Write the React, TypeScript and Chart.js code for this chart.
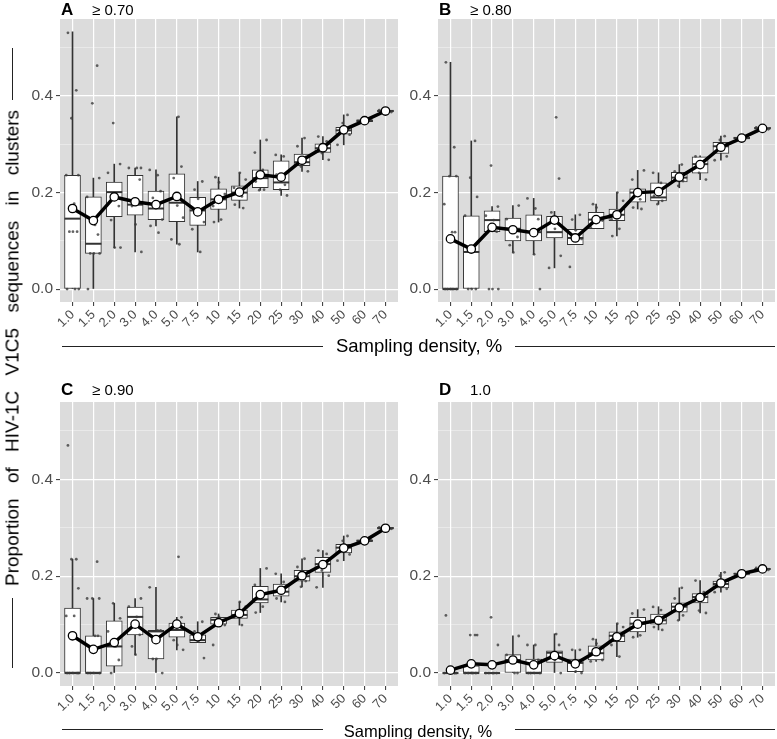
import React, { useEffect, useRef } from 'react';
import { Chart, registerables } from 'chart.js';

Chart.register(...registerables);

const FONT = "'Liberation Sans', Arial, Helvetica, sans-serif";
Chart.defaults.font.family = FONT;

// ---------- data ----------
const CATEGORIES = ['1.0', '1.5', '2.0', '3.0', '4.0', '5.0', '7.5', '10', '15', '20', '25', '30', '40', '50', '60', '70'];
const Y_GRID = [0, 0.1, 0.2, 0.3, 0.4, 0.5];
const Y_LABELED = [0, 0.2, 0.4];
const Y_MIN = -0.0267;
const Y_MAX = 0.5597;
const PANEL_LETTERS = ['A', 'B', 'C', 'D'];
const THRESHOLDS = ['\u2265 0.70', '\u2265 0.80', '\u2265 0.90', '1.0'];
const X_TITLE = 'Sampling density, %';
const Y_TITLE = 'Proportion of HIV-1C V1C5 sequences in clusters';

// Panel A (>= 0.70)
const A_LOW = [0, 0, 0.086, 0.077, 0.131, 0.093, 0.077, 0.139, 0.168, 0.205, 0.194, 0.244, 0.268, 0.299, 0.345, 0.365];
const A_Q1 = [0, 0.074, 0.150, 0.153, 0.144, 0.140, 0.132, 0.165, 0.184, 0.210, 0.206, 0.256, 0.283, 0.321, 0.347, 0.367];
const A_MEDIAN = [0.146, 0.094, 0.201, 0.175, 0.167, 0.179, 0.163, 0.186, 0.200, 0.230, 0.221, 0.263, 0.292, 0.329, 0.349, 0.369];
const A_Q3 = [0.236, 0.191, 0.222, 0.236, 0.203, 0.239, 0.190, 0.208, 0.214, 0.247, 0.266, 0.280, 0.301, 0.335, 0.351, 0.371];
const A_HIGH = [0.533, 0.230, 0.259, 0.251, 0.247, 0.357, 0.223, 0.232, 0.241, 0.309, 0.278, 0.313, 0.316, 0.361, 0.353, 0.373];
const A_MEAN = [0.167, 0.142, 0.191, 0.181, 0.175, 0.192, 0.160, 0.186, 0.201, 0.237, 0.232, 0.267, 0.293, 0.330, 0.349, 0.369];
const A_POINTS = [
  [0.531, 0.412, 0.354, 0.236, 0.236, 0.177, 0.119, 0.119, 0.119, 0, 0, 0],
  [0.463, 0.385, 0.230, 0.191, 0.133, 0.113, 0.074, 0.074, 0.074, 0],
  [0.344, 0.259, 0.241, 0.197, 0.172, 0.143, 0.086, 0.086],
  [0.251, 0.251, 0.251, 0.227, 0.172, 0.134, 0.077],
  [0.247, 0.236, 0.203, 0.189, 0.174, 0.144, 0.131, 0.117],
  [0.357, 0.254, 0.230, 0.173, 0.148, 0.103, 0.093],
  [0.223, 0.206, 0.187, 0.139, 0.124, 0.077],
  [0.232, 0.221, 0.197, 0.172, 0.144, 0.139],
  [0.241, 0.227, 0.210, 0.192, 0.175, 0.168],
  [0.309, 0.283, 0.247, 0.223, 0.206, 0.205],
  [0.278, 0.275, 0.237, 0.216, 0.206, 0.194],
  [0.313, 0.296, 0.274, 0.254, 0.244],
  [0.316, 0.306, 0.282, 0.268],
  [0.361, 0.344, 0.320, 0.299],
  [0.347, 0.351],
  [0.367, 0.371],
];

// Panel B (>= 0.80)
const B_LOW = [0, 0, 0.119, 0.076, 0.072, 0.044, 0.092, 0.125, 0.110, 0.166, 0.176, 0.210, 0.227, 0.267, 0.309, 0.330];
const B_Q1 = [0, 0, 0.119, 0.100, 0.100, 0.106, 0.092, 0.125, 0.142, 0.180, 0.183, 0.222, 0.240, 0.281, 0.311, 0.332];
const B_MEDIAN = [0, 0.077, 0.143, 0.125, 0.118, 0.118, 0.106, 0.144, 0.154, 0.200, 0.190, 0.231, 0.259, 0.296, 0.313, 0.333];
const B_Q3 = [0.234, 0.152, 0.162, 0.147, 0.154, 0.151, 0.124, 0.159, 0.166, 0.208, 0.220, 0.242, 0.274, 0.304, 0.315, 0.335];
const B_HIGH = [0.470, 0.307, 0.171, 0.173, 0.188, 0.161, 0.154, 0.176, 0.200, 0.246, 0.241, 0.258, 0.276, 0.317, 0.317, 0.337];
const B_MEAN = [0.104, 0.083, 0.128, 0.123, 0.117, 0.143, 0.106, 0.144, 0.154, 0.200, 0.202, 0.232, 0.258, 0.294, 0.313, 0.333];
const B_POINTS = [
  [0.470, 0.294, 0.234, 0.234, 0.176, 0.118, 0.118, 0, 0, 0, 0, 0],
  [0.307, 0.231, 0.191, 0.152, 0.077, 0, 0, 0],
  [0.256, 0.171, 0.152, 0.143, 0.119, 0, 0, 0],
  [0.173, 0.145, 0.125, 0.108, 0.091, 0.076],
  [0.188, 0.167, 0.145, 0.118, 0.072, 0],
  [0.356, 0.229, 0.159, 0.125, 0.069, 0.044],
  [0.154, 0.144, 0.122, 0.104, 0.046],
  [0.176, 0.169, 0.142, 0.128],
  [0.200, 0.183, 0.145, 0.125, 0.110],
  [0.246, 0.227, 0.186, 0.169, 0.166],
  [0.241, 0.220, 0.193, 0.183, 0.176],
  [0.258, 0.244, 0.224, 0.214],
  [0.275, 0.265, 0.241, 0.227],
  [0.317, 0.309, 0.275, 0.267],
  [0.311, 0.315],
  [0.331, 0.335],
];

// Panel C (>= 0.90)
const C_LOW = [0, 0, 0, 0.038, 0, 0.048, 0.063, 0.096, 0.099, 0.125, 0.147, 0.178, 0.177, 0.232, 0.270, 0.297];
const C_Q1 = [0, 0, 0.014, 0.079, 0.029, 0.074, 0.063, 0.101, 0.113, 0.145, 0.159, 0.190, 0.208, 0.248, 0.272, 0.298];
const C_MEDIAN = [0, 0, 0.055, 0.116, 0.086, 0.089, 0.068, 0.110, 0.120, 0.152, 0.168, 0.200, 0.225, 0.259, 0.273, 0.299];
const C_Q3 = [0.134, 0.077, 0.108, 0.136, 0.088, 0.103, 0.079, 0.115, 0.130, 0.179, 0.184, 0.212, 0.239, 0.266, 0.275, 0.301];
const C_HIGH = [0.235, 0.154, 0.144, 0.154, 0.177, 0.115, 0.106, 0.122, 0.147, 0.216, 0.205, 0.236, 0.253, 0.283, 0.277, 0.303];
const C_MEAN = [0.077, 0.049, 0.063, 0.101, 0.069, 0.101, 0.075, 0.104, 0.123, 0.162, 0.171, 0.201, 0.224, 0.258, 0.273, 0.299];
const C_POINTS = [
  [0.470, 0.235, 0.235, 0.175, 0.118, 0.118, 0, 0, 0, 0, 0],
  [0.230, 0.154, 0.154, 0.154, 0.077, 0.077, 0, 0, 0, 0],
  [0.144, 0.113, 0.086, 0.055, 0.027, 0],
  [0.154, 0.137, 0.116, 0.079, 0.055, 0.038],
  [0.177, 0.088, 0.088, 0.029, 0.029, 0],
  [0.240, 0.115, 0.068, 0.058, 0.048],
  [0.106, 0.086, 0.065, 0.031],
  [0.122, 0.116, 0.099, 0.058],
  [0.147, 0.137, 0.115, 0.099],
  [0.216, 0.182, 0.137, 0.125],
  [0.205, 0.188, 0.154, 0.147],
  [0.236, 0.219, 0.190, 0.178],
  [0.253, 0.246, 0.212, 0.201, 0.177],
  [0.283, 0.273, 0.245, 0.232],
  [0.271, 0.275],
  [0.298, 0.301],
];

// Panel D (1.0)
const D_LOW = [0, 0, 0, 0, 0, 0, 0, 0.024, 0.034, 0.074, 0.089, 0.109, 0.124, 0.167, 0.202, 0.212];
const D_Q1 = [0, 0, 0, 0, 0, 0.022, 0.003, 0.027, 0.065, 0.085, 0.101, 0.126, 0.145, 0.176, 0.204, 0.214];
const D_MEDIAN = [0, 0, 0, 0.027, 0, 0.042, 0.021, 0.041, 0.077, 0.102, 0.109, 0.137, 0.157, 0.184, 0.205, 0.215];
const D_Q3 = [0, 0.015, 0, 0.038, 0.029, 0.046, 0.029, 0.056, 0.085, 0.115, 0.122, 0.145, 0.164, 0.190, 0.206, 0.216];
const D_HIGH = [0, 0.015, 0, 0.077, 0.058, 0.081, 0.048, 0.070, 0.102, 0.131, 0.137, 0.176, 0.191, 0.208, 0.208, 0.218];
const D_MEAN = [0.006, 0.019, 0.017, 0.027, 0.017, 0.036, 0.019, 0.044, 0.075, 0.101, 0.109, 0.135, 0.156, 0.186, 0.205, 0.215];
const D_POINTS = [
  [0.119, 0, 0, 0, 0, 0, 0],
  [0.0785, 0.0785, 0.0785, 0, 0, 0, 0, 0],
  [0.115, 0.058, 0, 0, 0, 0, 0],
  [0.0765, 0.0375, 0, 0],
  [0.058, 0.058, 0.027, 0, 0, 0, 0],
  [0.0805, 0.058, 0.041, 0.027, 0],
  [0.048, 0.048, 0.0034, 0],
  [0.070, 0.061, 0.027, 0.024],
  [0.102, 0.095, 0.058, 0.034],
  [0.131, 0.123, 0.078, 0.074],
  [0.1365, 0.130, 0.095, 0.089],
  [0.176, 0.154, 0.119, 0.109],
  [0.191, 0.167, 0.129, 0.124],
  [0.208, 0.201, 0.174, 0.167],
  [0.203, 0.207],
  [0.213, 0.217],
];

const PANELS = [
  { low: A_LOW, q1: A_Q1, median: A_MEDIAN, q3: A_Q3, high: A_HIGH, mean: A_MEAN, points: A_POINTS },
  { low: B_LOW, q1: B_Q1, median: B_MEDIAN, q3: B_Q3, high: B_HIGH, mean: B_MEAN, points: B_POINTS },
  { low: C_LOW, q1: C_Q1, median: C_MEDIAN, q3: C_Q3, high: C_HIGH, mean: C_MEAN, points: C_POINTS },
  { low: D_LOW, q1: D_Q1, median: D_MEDIAN, q3: D_Q3, high: D_HIGH, mean: D_MEAN, points: D_POINTS },
];

// ---------- layout / style ----------
// jitter offsets (in category units) used for the scattered replicate dots
const JITTER = [-0.22, 0.18, -0.05, 0.28, -0.3, 0.08, 0.22, -0.15, 0.02, 0.3, -0.26, 0.12];
// plot-area rectangles of the four panels (page pixels)
const PANEL_POS = [
  { L: 60, T: 19, R: 398, B: 302 },
  { L: 438, T: 19, R: 775, B: 302 },
  { L: 60, T: 402, R: 398, B: 686 },
  { L: 438, T: 402, R: 775, B: 686 },
];
const Y_AXIS_W = 45;
const X_AXIS_H = 40;
const PAD_TOP = 10;
const PAD_RIGHT = 2;
const PANEL_BG = '#DCDCDC';
const INK = '#333333';
const TICK_TEXT = '#4D4D4D';

const panelBackground = {
  id: 'panelBackground',
  beforeDraw(chart: any) {
    const { ctx, chartArea: a } = chart;
    ctx.save();
    ctx.fillStyle = PANEL_BG;
    ctx.fillRect(a.left, a.top, a.right - a.left, a.bottom - a.top);
    ctx.restore();
  },
};

function Panel({ data, pos }: { data: any; pos: any }) {
  const ref = useRef<HTMLCanvasElement>(null);
  const width = pos.R - pos.L + Y_AXIS_W + PAD_RIGHT;
  const height = pos.B - pos.T + PAD_TOP + X_AXIS_H;

  useEffect(() => {
    const idx = CATEGORIES.map((_, i) => i);
    const whiskers = idx.map((i) => ({ x: i, y: [data.low[i], data.high[i]] }));
    const boxes = idx.map((i) => ({ x: i, y: [data.q1[i], data.q3[i]] }));
    const medians = idx.map((i) => ({ x: i, y: data.median[i] }));
    const means = idx.map((i) => ({ x: i, y: data.mean[i] }));
    const dots: { x: number; y: number }[] = [];
    data.points.forEach((vals: number[], i: number) => {
      vals.forEach((v, k) => dots.push({ x: i + JITTER[(k + i) % JITTER.length], y: v }));
    });

    const chart = new Chart(ref.current as HTMLCanvasElement, {
      type: 'bar',
      data: {
        datasets: [
          {
            type: 'bar',
            data: whiskers as any,
            backgroundColor: INK,
            borderWidth: 0,
            barThickness: 1,
            grouped: false,
            order: 5,
          } as any,
          {
            type: 'bar',
            data: boxes as any,
            backgroundColor: '#FFFFFF',
            borderColor: INK,
            borderWidth: 1,
            borderSkipped: false,
            barThickness: 16,
            grouped: false,
            order: 4,
          } as any,
          {
            type: 'scatter',
            data: medians,
            pointStyle: 'line',
            pointRadius: 8,
            pointBorderColor: INK,
            pointBorderWidth: 2,
            order: 3,
          } as any,
          {
            type: 'scatter',
            data: dots,
            pointRadius: 1.4,
            pointBackgroundColor: 'rgba(60,60,60,0.8)',
            pointBorderWidth: 0,
            order: 2,
          } as any,
          {
            type: 'line',
            data: means,
            borderColor: '#000000',
            borderWidth: 3.5,
            pointRadius: 4.2,
            pointBackgroundColor: '#FFFFFF',
            pointBorderColor: '#000000',
            pointBorderWidth: 1.3,
            tension: 0,
            fill: false,
            order: 1,
          } as any,
        ],
      },
      options: {
        animation: false,
        responsive: false,
        events: [],
        layout: { autoPadding: false, padding: { top: PAD_TOP, right: PAD_RIGHT, left: 0, bottom: 0 } },
        plugins: { legend: { display: false }, tooltip: { enabled: false } },
        scales: {
          x: {
            type: 'linear',
            min: -0.6,
            max: 15.6,
            bounds: 'data',
            offset: false,
            afterBuildTicks: (s: any) => {
              s.ticks = CATEGORIES.map((_, i) => ({ value: i }));
            },
            afterFit: (s: any) => {
              s.height = X_AXIS_H;
              s.paddingLeft = 0;
              s.paddingRight = 0;
            },
            ticks: {
              autoSkip: false,
              maxRotation: 45,
              minRotation: 45,
              padding: 1,
              color: TICK_TEXT,
              font: { size: 13, family: FONT },
              callback: (v: any) => CATEGORIES[v],
            },
            grid: { offset: false, color: '#FFFFFF', lineWidth: 1.2, tickLength: 4, tickColor: INK, tickWidth: 1 },
            border: { display: false },
          },
          y: {
            type: 'linear',
            min: Y_MIN,
            max: Y_MAX,
            bounds: 'data',
            afterBuildTicks: (s: any) => {
              s.ticks = Y_GRID.map((v) => ({ value: v }));
            },
            afterFit: (s: any) => {
              s.width = Y_AXIS_W;
              s.paddingTop = 0;
              s.paddingBottom = 0;
            },
            ticks: {
              padding: 3,
              color: TICK_TEXT,
              font: { size: 15.5, family: FONT },
              callback: (v: any) => (Y_LABELED.includes(v) ? Number(v).toFixed(1) : ''),
            },
            grid: {
              color: (c: any) => (Y_LABELED.includes(c.tick?.value) ? '#FFFFFF' : 'rgba(255,255,255,0.55)'),
              lineWidth: (c: any) => (Y_LABELED.includes(c.tick?.value) ? 1.2 : 0.7),
              tickLength: 4,
              tickColor: (c: any) => (Y_LABELED.includes(c.tick?.value) ? INK : 'rgba(0,0,0,0)'),
              tickWidth: 1,
            },
            border: { display: false },
          },
        },
      } as any,
      plugins: [panelBackground],
    });
    return () => chart.destroy();
  }, [data]);

  return (
    <canvas
      ref={ref}
      width={width}
      height={height}
      style={{ position: 'absolute', left: pos.L - Y_AXIS_W, top: pos.T - PAD_TOP, width, height }}
    />
  );
}

function Hline({ x1, x2, y }: { x1: number; x2: number; y: number }) {
  return <div style={{ position: 'absolute', left: x1, top: y, width: x2 - x1, height: 1.2, background: '#222' }} />;
}
function Vline({ y1, y2, x }: { y1: number; y2: number; x: number }) {
  return <div style={{ position: 'absolute', left: x, top: y1, width: 1.2, height: y2 - y1, background: '#222' }} />;
}

export default function App() {
  const baselines = [15, 15, 395, 395];
  return (
    <div
      style={{
        position: 'absolute',
        left: 0,
        top: 0,
        width: 777,
        height: 739,
        background: '#FFFFFF',
        overflow: 'hidden',
        fontFamily: FONT,
        color: '#000',
      }}
    >
      {PANELS.map((p, i) => (
        <Panel key={i} data={p} pos={PANEL_POS[i]} />
      ))}
      {PANEL_LETTERS.map((letter, i) => (
        <React.Fragment key={letter}>
          <div
            style={{
              position: 'absolute',
              left: PANEL_POS[i].L + 1,
              top: baselines[i] - 14.4,
              fontSize: 17,
              lineHeight: '17px',
              fontWeight: 'bold',
              whiteSpace: 'nowrap',
            }}
          >
            {letter}
          </div>
          <div
            style={{
              position: 'absolute',
              left: PANEL_POS[i].L + 32,
              top: baselines[i] - 12.7,
              fontSize: 15,
              lineHeight: '15px',
              whiteSpace: 'nowrap',
            }}
          >
            {THRESHOLDS[i]}
          </div>
        </React.Fragment>
      ))}

      {/* x-axis titles */}
      <Hline x1={62} x2={323} y={346} />
      <Hline x1={515} x2={775} y={346} />
      <div
        style={{
          position: 'absolute',
          left: 419,
          top: 337,
          transform: 'translateX(-50%)',
          fontSize: 18.5,
          lineHeight: '18.5px',
          whiteSpace: 'nowrap',
        }}
      >
        {X_TITLE}
      </div>
      <Hline x1={62} x2={323} y={729} />
      <Hline x1={515} x2={775} y={729} />
      <div
        style={{
          position: 'absolute',
          left: 418,
          top: 723,
          transform: 'translateX(-50%)',
          fontSize: 16.5,
          lineHeight: '16.5px',
          whiteSpace: 'nowrap',
        }}
      >
        {X_TITLE}
      </div>

      {/* y-axis title */}
      <Vline x={11.5} y1={48} y2={100} />
      <Vline x={11.5} y1={598} y2={668} />
      <div
        style={{
          position: 'absolute',
          left: 12,
          top: 348,
          transform: 'translate(-50%, -50%) rotate(-90deg)',
          fontSize: 19,
          lineHeight: '19px',
          wordSpacing: 10,
          whiteSpace: 'nowrap',
        }}
      >
        {Y_TITLE}
      </div>
    </div>
  );
}
